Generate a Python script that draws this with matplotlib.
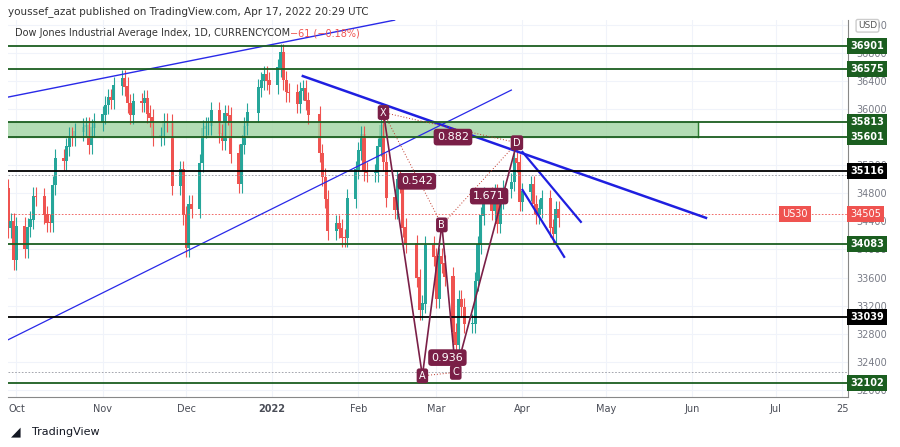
import numpy as np
import pandas as pd
import matplotlib
matplotlib.use("Agg")
import matplotlib.pyplot as plt
import matplotlib.dates as mdates
import matplotlib.transforms as mtrans

# daily closes, US30
dates = pd.bdate_range("2021-09-27", "2022-04-14")
dates = dates[~dates.isin(pd.to_datetime(["2021-11-25", "2021-12-24", "2022-01-17", "2022-02-21"]))]
closes = [34869, 34299, 34390, 33844, 34326,
          34002, 34314, 34417, 34754, 34746, 34496, 34378, 34377, 34912, 35295,
          35258, 35457, 35609, 35603, 35677, 35741, 35757, 35491, 35731, 35820,
          35913, 36053, 36158, 36124, 36328, 36432, 36320, 36080, 35921, 36100,
          36087, 36142, 35931, 35870, 35602, 35619, 35813, 35804, 34899,
          35136, 34484, 34022, 34640, 34580, 35227, 35719, 35754, 35754, 35971,
          35650, 35544, 35927, 35898, 35365, 34932, 35493, 35754, 35950,
          36302, 36398, 36488, 36398, 36338, 36585, 36800, 36407, 36236, 36231,
          36068, 36252, 36290, 36113, 35912, 35369, 35029, 34715, 34265,
          34365, 34298, 34168, 34161, 34725, 35132, 35405, 35629, 35111, 35089,
          35091, 35463, 35768, 35242, 34738, 34566, 34989, 34935, 34312, 34079,
          33597, 33132, 33224, 34059, 33893, 33294, 33891, 33795, 33615,
          32818, 32633, 33287, 33174, 32944, 32945, 33545, 34063, 34481, 34755,
          34553, 34807, 34359, 34708, 34862, 34956, 35295, 35229, 34678, 34818,
          34922, 34642, 34497, 34583, 34721, 34308, 34221, 34565, 34451]
wicks = 130

green_levels = [36901, 36575, 35813, 35601, 34083, 32102]
black_levels = [35116, 33039]
last_price = 34505

xabcd_names = ["X", "A", "B", "C", "D"]
xabcd_dates = ["2022-02-10", "2022-02-24", "2022-03-03", "2022-03-08", "2022-03-30"]
xabcd_prices = [35950, 32200, 34350, 32250, 35520]
ratio_text = ["0.542", "0.936", "1.671", "0.882"]
ratio_dates = ["2022-02-22", "2022-03-05", "2022-03-20", "2022-03-07"]
ratio_prices = [34970, 32460, 34760, 35600]

UP, DN = "#26a69a", "#ef5350"
PURP = "#7a1f47"

fig = plt.figure(figsize=(9, 4.47), dpi=100)
ax = fig.add_axes([0.009, 0.112, 0.933, 0.843])
x = mdates.date2num(dates)
opens = [closes[0] - 200] + closes[:-1]
for xi, o, c in zip(x, opens, closes):
    col = UP if c >= o else DN
    ax.vlines(xi, min(o, c) - wicks, max(o, c) + wicks, color=col, lw=0.8)
    ax.bar(xi, abs(c - o) + 10, bottom=min(o, c), width=1.1, color=col, lw=0)

d = lambda s: mdates.date2num(pd.Timestamp(s))
xr = d("2022-07-27")
ax.set_xlim(d("2021-09-28"), xr)
ax.set_ylim(31900, 37266)

# zone
ax.fill_between([d("2021-09-20"), d("2022-06-03")], 35601, 35813, color="#a5d6a7", alpha=0.85, zorder=1)
ax.plot([d("2022-06-03")] * 2, [35601, 35813], color="#2e7d32", lw=1)
for lv in green_levels:
    ax.axhline(lv, color="#1b5e20", lw=1.3, zorder=3)
for lv in black_levels:
    ax.axhline(lv, color="black", lw=1.3, zorder=3)
ax.axhline(35060, color="#9598a1", lw=0.6, ls=(0, (2, 2)))
ax.axhline(32250, color="#9598a1", lw=0.6, ls=(0, (2, 2)))
ax.axhline(last_price, color=DN, lw=0.6, ls=(0, (2, 2)))

# trend lines
ax.plot([d("2021-09-28"), d("2022-02-14")], [36170, 37266], color="#2929e8", lw=1)
ax.plot([d("2021-09-28"), d("2022-03-28")], [32714, 36270], color="#2929e8", lw=0.9)
ax.plot([d("2022-01-12"), d("2022-06-06")], [36469, 34450], color="#1f1fe0", lw=1.8)
ax.plot([d("2022-04-01"), d("2022-04-22")], [35388, 34393], color="#1f1fe0", lw=1.6)
ax.plot([d("2022-04-01"), d("2022-04-16")], [34848, 33895], color="#1f1fe0", lw=1.6)

# harmonic pattern
px = [d(s) for s in xabcd_dates]
ax.plot(px, xabcd_prices, color=PURP, lw=1.2, zorder=5)
for i, j in [(0, 2), (1, 3), (2, 4), (0, 4)]:
    ax.plot([px[i], px[j]], [xabcd_prices[i], xabcd_prices[j]], color="#c0392b", lw=0.7, ls=(0, (1, 2)), zorder=5)
for n, xx, yy in zip(xabcd_names, px, xabcd_prices):
    ax.text(xx, yy, n, color="white", fontsize=7, ha="center", va="center", zorder=7,
            bbox=dict(boxstyle="round,pad=0.25", fc=PURP, ec="none"))
for t, s, yy in zip(ratio_text, ratio_dates, ratio_prices):
    ax.text(d(s), yy, t, color="white", fontsize=8, ha="center", va="center", zorder=7,
            bbox=dict(boxstyle="round,pad=0.3", fc=PURP, ec="none"))
ax.text(d("2022-07-08"), last_price, "US30", color="white", fontsize=7, ha="center", va="center",
        bbox=dict(boxstyle="square,pad=0.3", fc=DN, ec="none"))

# axes styling
ax.yaxis.tick_right()
ax.set_yticks(range(32000, 37201, 400))
ax.tick_params(axis="y", length=0, labelsize=7, colors="#787b86", pad=6)
ticks = ["2021-10-01", "2021-11-01", "2021-12-01", "2022-01-01", "2022-02-01", "2022-03-01",
         "2022-04-01", "2022-05-01", "2022-06-01", "2022-07-01", "2022-07-25"]
labels = ["Oct", "Nov", "Dec", "2022", "Feb", "Mar", "Apr", "May", "Jun", "Jul", "25"]
ax.set_xticks([d(t) for t in ticks])
ax.set_xticklabels(labels)
for lb in ax.get_xticklabels():
    lb.set_fontweight("bold" if lb.get_text() == "2022" else "normal")
ax.tick_params(axis="x", length=0, labelsize=7, colors="#4a4d57", pad=5)
ax.grid(True, color="#f0f3fa", lw=0.8, zorder=0)
ax.set_axisbelow(True)
for sp in ["top", "left"]:
    ax.spines[sp].set_visible(False)
for sp in ["right", "bottom"]:
    ax.spines[sp].set_color("#888888")

tr = mtrans.blended_transform_factory(ax.transAxes, ax.transData)
for lv in green_levels:
    ax.text(1.003, lv, str(lv), transform=tr, color="white", fontsize=7, fontweight="bold", va="center",
            ha="left", bbox=dict(boxstyle="square,pad=0.3", fc="#1b5e20", ec="none"), zorder=8)
for lv in black_levels:
    ax.text(1.003, lv, str(lv), transform=tr, color="white", fontsize=7, fontweight="bold", va="center",
            ha="left", bbox=dict(boxstyle="square,pad=0.3", fc="black", ec="none"), zorder=8)
ax.text(1.003, last_price, str(last_price), transform=tr, color="white", fontsize=7, va="center",
        ha="left", bbox=dict(boxstyle="square,pad=0.3", fc=DN, ec="none"), zorder=8)
ax.text(1.012, 0.985, "USD", transform=ax.transAxes, fontsize=6.5, color="#555", va="center",
        bbox=dict(boxstyle="round,pad=0.2", fc="white", ec="#ccc"), zorder=9)

fig.text(0.009, 0.975, "youssef_azat published on TradingView.com, Apr 17, 2022 20:29 UTC",
         fontsize=7.5, color="#333", va="center")
ax.text(0.008, 0.965, "Dow Jones Industrial Average Index, 1D, CURRENCYCOM", transform=ax.transAxes,
        fontsize=7, color="#333", va="center")
ax.text(0.336, 0.965, "\u221261 (\u22120.18%)", transform=ax.transAxes, fontsize=7, color=DN, va="center")
fig.text(0.035, 0.033, "TradingView", fontsize=8, color="#131722", va="center")
fig.text(0.012, 0.033, "\u25e2", fontsize=9, color="#131722", va="center")

fig.savefig("out.png", dpi=100)
